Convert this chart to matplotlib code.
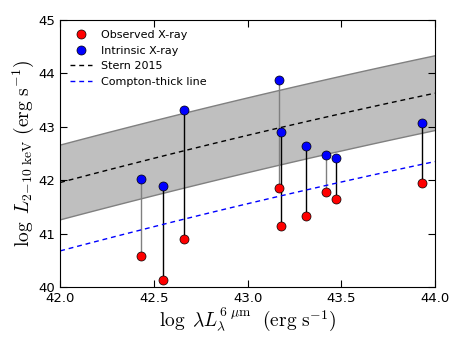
import matplotlib
matplotlib.use('Agg')
import matplotlib.pyplot as plt
import numpy as np

# log lambda L_6um and X-ray luminosities
log_l6 = [42.43, 42.55, 42.66, 43.17, 43.18, 43.31, 43.42, 43.47, 43.93]
log_lx_obs = [40.59, 40.14, 40.90, 41.86, 41.14, 41.34, 41.78, 41.65, 41.95]
log_lx_int = [42.02, 41.90, 43.31, 43.87, 42.90, 42.65, 42.48, 42.42, 43.07]
link_colors = ['gray', 'black', 'black', 'gray', 'black', 'black', 'gray', 'black', 'black']

# Stern 2015 relation coefficients, scatter and Compton-thick offset
stern_coef = [40.981, 1.024, -0.047]
stern_scatter = 0.7
ct_offset = 1.28

plt.rcParams['mathtext.fontset'] = 'cm'
plt.rcParams['xtick.direction'] = 'in'
plt.rcParams['ytick.direction'] = 'in'
plt.rcParams['xtick.top'] = True
plt.rcParams['ytick.right'] = True
plt.rcParams['xtick.major.size'] = 5
plt.rcParams['ytick.major.size'] = 5

fig = plt.figure(figsize=(4.63, 3.48), dpi=100)
ax = fig.add_axes([0.130, 0.175, 0.8095, 0.7675])

xx = np.linspace(42.0, 44.0, 100)
u = xx - 41.0
stern = stern_coef[0] + stern_coef[1] * u + stern_coef[2] * u ** 2

ax.fill_between(xx, stern - stern_scatter, stern + stern_scatter,
                facecolor='#bfbfbf', edgecolor='none', zorder=1)
ax.plot(xx, stern - stern_scatter, color='gray', lw=1, zorder=1)
ax.plot(xx, stern + stern_scatter, color='gray', lw=1, zorder=1)

for x, lo, hi, c in zip(log_l6, log_lx_obs, log_lx_int, link_colors):
    ax.plot([x, x], [lo, hi], color=c, lw=1, zorder=2)

ax.plot(log_l6, log_lx_obs, 'o', color='red', mec='black', mew=0.5, ms=6.5,
        ls='none', label='Observed X-ray', zorder=3)
ax.plot(log_l6, log_lx_int, 'o', color='blue', mec='black', mew=0.5, ms=6.5,
        ls='none', label='Intrinsic X-ray', zorder=3)
ax.plot(xx, stern, '--', color='black', lw=1, dashes=(3.5, 2.8),
        label='Stern 2015', zorder=2)
ax.plot(xx, stern - ct_offset, '--', color='blue', lw=1, dashes=(3.5, 2.8),
        label='Compton-thick line', zorder=2)

ax.set_xlim(42.0, 44.0)
ax.set_ylim(40, 45)
ax.set_xticks([42.0, 42.5, 43.0, 43.5, 44.0])
ax.set_xticklabels(['42.0', '42.5', '43.0', '43.5', '44.0'])
ax.set_yticks([40, 41, 42, 43, 44, 45])
ax.tick_params(labelsize=9.5)

ax.set_xlabel(r'$\log\ \lambda L_{\lambda}^{6\ \mu\mathrm{m}}\ \ (\mathrm{erg\ s^{-1}})$',
              fontsize=14, labelpad=0)
ax.set_ylabel(r'$\log\ L_{2\!-\!10\ \mathrm{keV}}\ (\mathrm{erg\ s^{-1}})$',
              fontsize=14, labelpad=2)

ax.legend(loc='upper left', frameon=False, numpoints=1, fontsize=8,
          handlelength=2)

fig.savefig('out.png', dpi=100)
